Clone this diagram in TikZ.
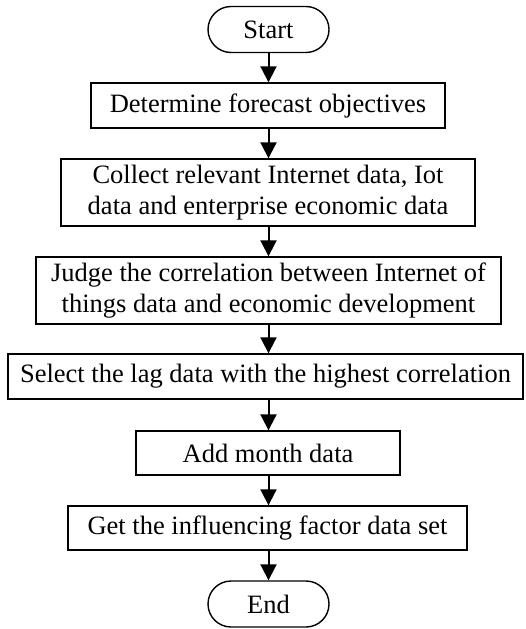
\documentclass[tikz,border=0pt]{standalone}
\usepackage{fontspec}
\setmainfont{Liberation Serif}
\usetikzlibrary{arrows.meta}
\begin{document}
\begin{tikzpicture}[x=1pt,y=1pt,
  stepbox/.style={draw, line width=1.4pt, rectangle, inner sep=0pt,
    font=\fontsize{26.5}{31.5}\selectfont, align=center},
  terminal/.style={draw, line width=1.4pt, rectangle, rounded corners=23pt,
    inner sep=0pt, minimum width=121pt, minimum height=46pt,
    font=\fontsize{26.5}{31.5}\selectfont},
  flow/.style={line width=2pt, -{Triangle[length=16pt,width=16pt]}}]
\useasboundingbox (0,0) rectangle (525,-629);
\node[terminal] (start) at (268.5,-29.5) {Start};
\node[stepbox, minimum width=354pt, minimum height=45pt] (s1) at (268,-105.5)
  {Determine forecast objectives};
\node[stepbox, minimum width=414pt, minimum height=67pt] (s2) at (268,-192.5)
  {Collect relevant Internet data, Iot\\data and enterprise economic data};
\node[stepbox, minimum width=465pt, minimum height=67pt] (s3) at (268.5,-290.5)
  {Judge the correlation between Internet of\\things data and economic development};
\node[stepbox, minimum width=515pt, minimum height=45pt] (s4) at (265.5,-376.5)
  {Select the lag data with the highest correlation};
\node[stepbox, minimum width=264pt, minimum height=44pt] (s5) at (268,-453)
  {Add month data};
\node[stepbox, minimum width=399pt, minimum height=44pt] (s6) at (267.5,-528)
  {Get the influencing factor data set};
\node[terminal] (end) at (268.5,-604) {End};
\foreach \a/\b in {start/s1, s1/s2, s2/s3, s3/s4, s4/s5, s5/s6, s6/end}
  \draw[flow] (\a.south -| start.south) -- (\b.north -| start.south);
\end{tikzpicture}
\end{document}
